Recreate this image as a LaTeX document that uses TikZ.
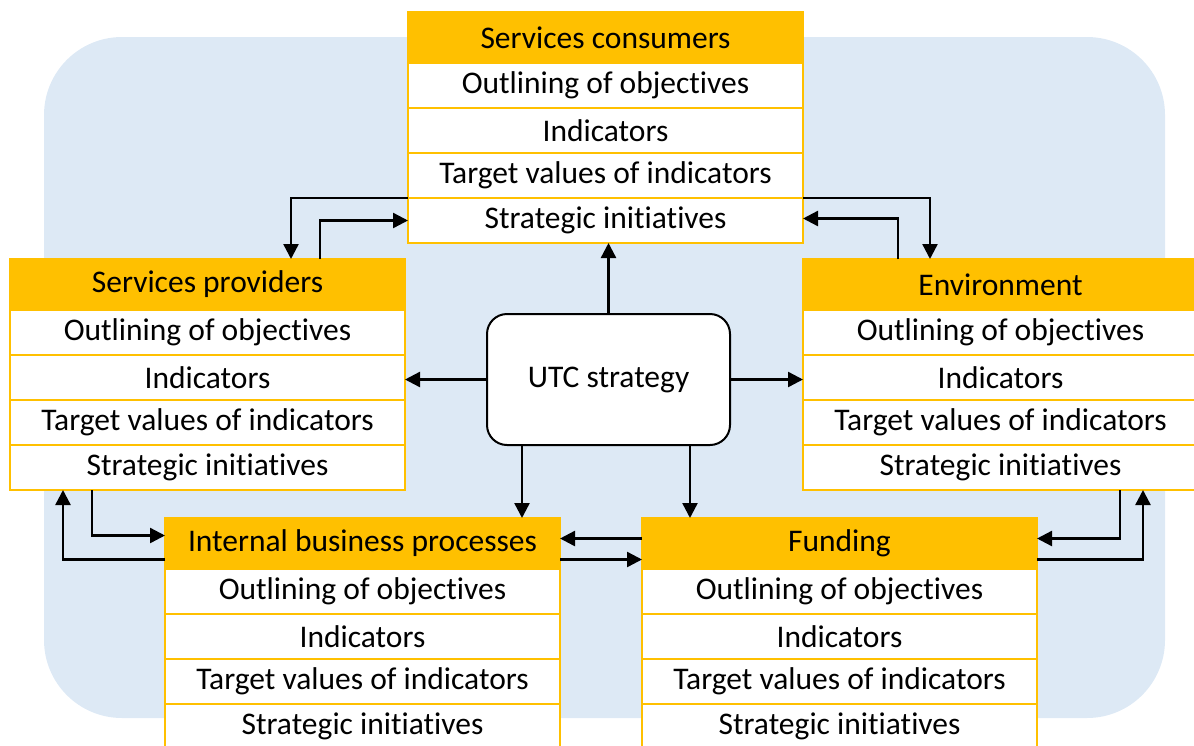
\documentclass[tikz,border=0pt]{standalone}
\usepackage{fontspec}
\setmainfont{Carlito}[Ligatures=NoCommon]
\usetikzlibrary{arrows.meta,calc}
\definecolor{hdr}{RGB}{255,192,0}
\definecolor{bgblue}{RGB}{221,233,245}
\tikzset{
  hdrbox/.style={draw=hdr,fill=hdr,line width=1.2pt,outer sep=0pt,minimum width=395pt,minimum height=51pt,inner sep=0pt,font=\fontsize{31.5}{36}\selectfont},
  rowbox/.style={draw=hdr,fill=white,line width=1.5pt,outer sep=0pt,minimum width=395pt,minimum height=45pt,inner sep=0pt,font=\fontsize{31.5}{36}\selectfont},
  arr/.style={line width=2.4pt,-{Triangle[length=15pt,width=15pt]}},
  utcbox/.style={draw=black,fill=white,line width=2pt,rounded corners=20pt,minimum width=243pt,minimum height=131pt,inner sep=0pt,font=\fontsize{31.5}{36}\selectfont}
}
\newcommand{\stratbox}[4]{% name, center x, top y, title
  \node[hdrbox] (#1-h) at (#2,#3+25.5) {#4};
  \node[rowbox,anchor=north] (#1-1) at (#1-h.south) {Outlining of objectives};
  \node[rowbox,anchor=north] (#1-2) at (#1-1.south) {Indicators};
  \node[rowbox,anchor=north] (#1-3) at (#1-2.south) {Target values of indicators};
  \node[rowbox,anchor=north] (#1-4) at (#1-3.south) {Strategic initiatives};
}
\begin{document}
\begin{tikzpicture}[x=1pt,y=-1pt]
\useasboundingbox (0,0) rectangle (1194,745);
\fill[bgblue,rounded corners=78pt] (44,37) rectangle (1165,718);
\stratbox{c}{605.5}{12}{Services consumers}
\stratbox{p}{207.5}{259}{Services providers}
\stratbox{e}{1000.5}{259}{Environment}
\stratbox{i}{362.5}{518}{Internal business processes}
\stratbox{f}{839.5}{518}{Funding}
\node[utcbox] (u) at (608.5,379.5) {UTC strategy};
% UTC connectors
\draw[arr] (u.north) -- (u.north |- c-4.south);
\draw[arr] (u.west) -- (u.west -| p-2.east);
\draw[arr] (u.east) -- (u.east -| e-2.west);
\draw[arr] ([xshift=-86.5pt]u.south) -- ([xshift=-86.5pt]u.south |- i-h.north);
\draw[arr] ([xshift=81.5pt]u.south) -- ([xshift=81.5pt]u.south |- f-h.north);
% consumers - providers
\draw[arr] (c-4.north west) -| ([xshift=281pt]p-h.north west);
\draw[arr] ([xshift=310pt]p-h.north west) |- (c-4.west);
% consumers - environment
\draw[arr] (c-4.north east) -| ([xshift=127pt]e-h.north west);
\draw[arr] ([xshift=95pt]e-h.north west) |- ([yshift=2pt]c-4.east);
% providers - internal
\draw[arr] ([xshift=82pt]p-4.south west) |- ([yshift=8pt]i-h.west);
\draw[arr] ([yshift=-16pt]i-h.west) -| ([xshift=53pt]p-4.south west);
% internal - funding
\draw[arr] ([yshift=5pt]f-h.west) -- ([yshift=5pt]f-h.west -| i-h.east);
\draw[arr] ([yshift=-16pt]i-h.east) -- ([yshift=-16pt]i-h.east -| f-h.west);
% funding - environment
\draw[arr] ([xshift=317pt]e-4.south west) |- ([yshift=5pt]f-h.east);
\draw[arr] ([yshift=-16pt]f-h.east) -| ([xshift=340pt]e-4.south west);
\end{tikzpicture}
\end{document}
